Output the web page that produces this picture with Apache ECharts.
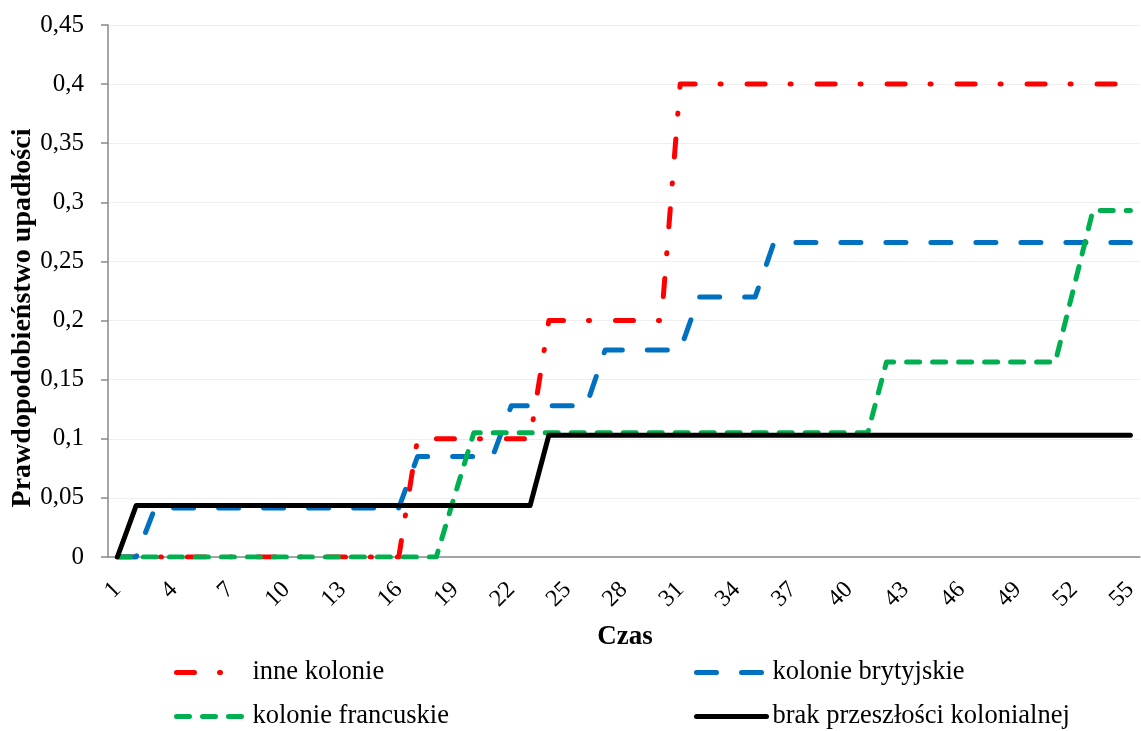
<!DOCTYPE html>
<html><head><meta charset="utf-8">
<script src="https://cdn.jsdelivr.net/npm/echarts@6/dist/echarts.min.js"></script>
<style>html,body{margin:0;padding:0;background:#fff}#c{width:1141px;height:731px}</style>
</head><body><div id="c"></div>
<script>
const categories = ['1','2','3','4','5','6','7','8','9','10','11','12','13','14','15','16','17','18','19','20',
  '21','22','23','24','25','26','27','28','29','30','31','32','33','34','35','36','37','38','39','40',
  '41','42','43','44','45','46','47','48','49','50','51','52','53','54','55'];

const inneKolonie = [0,0,0,0,0,0,0,0,0,0,0,0,0,0,0,0,
  0.1,0.1,0.1,0.1,0.1,0.1,0.1,
  0.2,0.2,0.2,0.2,0.2,0.2,0.2,
  0.4,0.4,0.4,0.4,0.4,0.4,0.4,0.4,0.4,0.4,0.4,0.4,0.4,0.4,0.4,0.4,0.4,0.4,0.4,0.4,0.4,0.4,0.4,0.4,0.4];

const kolonieBrytyjskie = [0,0,
  0.0415,0.0415,0.0415,0.0415,0.0415,0.0415,0.0415,0.0415,0.0415,0.0415,0.0415,0.0415,0.0415,0.0415,
  0.085,0.085,0.085,0.085,0.085,
  0.128,0.128,0.128,0.128,0.128,
  0.175,0.175,0.175,0.175,0.175,
  0.22,0.22,0.22,0.22,
  0.266,0.266,0.266,0.266,0.266,0.266,0.266,0.266,0.266,0.266,0.266,0.266,0.266,0.266,0.266,0.266,0.266,0.266,0.266,0.266];

const kolonieFrancuskie = [0,0,0,0,0,0,0,0,0,0,0,0,0,0,0,0,0,0,
  0.053,
  0.105,0.105,0.105,0.105,0.105,0.105,0.105,0.105,0.105,0.105,0.105,0.105,0.105,0.105,0.105,0.105,0.105,0.105,0.105,0.105,0.105,0.105,
  0.165,0.165,0.165,0.165,0.165,0.165,0.165,0.165,0.165,0.165,
  0.229,
  0.293,0.293,0.293];

const brakPrzeszlosci = [0,
  0.0435,0.0435,0.0435,0.0435,0.0435,0.0435,0.0435,0.0435,0.0435,0.0435,0.0435,0.0435,0.0435,0.0435,0.0435,0.0435,0.0435,0.0435,0.0435,0.0435,0.0435,0.0435,
  0.103,0.103,0.103,0.103,0.103,0.103,0.103,0.103,0.103,0.103,0.103,0.103,0.103,0.103,0.103,0.103,0.103,0.103,0.103,0.103,0.103,0.103,0.103,0.103,0.103,0.103,0.103,0.103,0.103,0.103,0.103,0.103];

const seriesNames = ['inne kolonie','kolonie brytyjskie','kolonie francuskie','brak przeszłości kolonialnej'];
const xTitle = 'Czas';
const yTitle = 'Prawdopodobieństwo upadłości';

const FONT = '"Liberation Serif", "Times New Roman", serif';
const styles = [
  {color:'#ff0000', width:5, type:[18,25,1,26], cap:'round', join:'round'},
  {color:'#0070c0', width:5, type:[20,25], cap:'round', join:'round'},
  {color:'#00b050', width:5, type:[13,13], cap:'round', join:'round'},
  {color:'#000000', width:5, type:'solid', cap:'round', join:'round'}
];
const seriesData = [inneKolonie, kolonieBrytyjskie, kolonieFrancuskie, brakPrzeszlosci];
const legendPos = [[174,659],[694,659],[174,703],[694,703]];

const chart = echarts.init(document.getElementById('c'));
const option = {
  animation: false,
  backgroundColor: '#fff',
  grid: {left:108, right:0, top:25, bottom:174, containLabel:false},
  xAxis: {
    type:'category', data: categories, boundaryGap: true,
    axisLine:{lineStyle:{color:'#898989', width:1.5}},
    axisTick:{interval:0, length:6, lineStyle:{color:'#898989', width:1.5}},
    axisLabel:{interval:2, rotate:45, margin:29, fontSize:24, color:'#000', fontFamily:FONT},
    splitLine:{show:false}
  },
  yAxis: {
    type:'value', min:0, max:0.45, interval:0.05,
    axisLine:{show:true, lineStyle:{color:'#898989', width:1.5}},
    axisTick:{show:true, length:7, lineStyle:{color:'#898989', width:1.5}},
    axisLabel:{margin:24, fontSize:25, color:'#000', fontFamily:FONT,
      formatter: v => String(Math.round(v*100)/100).replace('.', ',')},
    splitLine:{lineStyle:{color:'#eeeeee', width:1}}
  },
  legend: seriesNames.map((n, i) => ({
    data:[n], left:legendPos[i][0], top:legendPos[i][1], orient:'horizontal',
    itemWidth:70, itemHeight:28, padding:0, selectedMode:false,
    textStyle:{fontSize:26.5, fontFamily:FONT, color:'#000', padding:[0,0,0,1]},
    itemStyle:{opacity:0},
    lineStyle: Object.assign({}, styles[i])
  })),
  series: seriesNames.map((n, i) => ({
    name:n, type:'line', data: seriesData[i], symbol:'none', showSymbol:false,
    lineStyle: Object.assign({}, styles[i]), z: 2 + i
  })),
  graphic: [
    {type:'text', x:23, y:318, rotation:Math.PI/2,
     style:{text:yTitle, fontSize:28, fontWeight:'bold', fontFamily:FONT, fill:'#000', align:'center', verticalAlign:'middle'}},
    {type:'text', x:625, y:637,
     style:{text:xTitle, fontSize:27, fontWeight:'bold', fontFamily:FONT, fill:'#000', align:'center', verticalAlign:'middle'}}
  ]
};
chart.setOption(option);
</script>
</body></html>
